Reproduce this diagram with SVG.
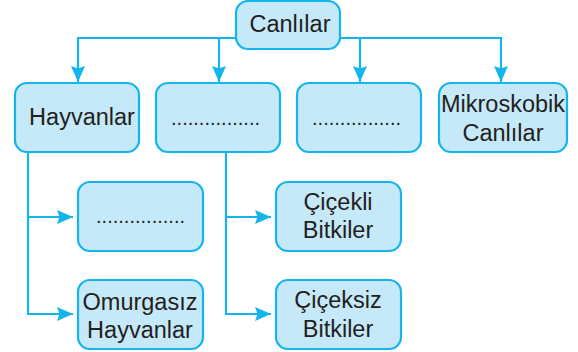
<svg xmlns="http://www.w3.org/2000/svg" width="578" height="352" viewBox="0 0 578 352">
<style>
.box{fill:#c6e9f9;stroke:#14b4ec;stroke-width:2.2}
.t{font-family:"Liberation Sans",Arial,Helvetica,sans-serif;font-size:23.5px;fill:#231f20;text-anchor:middle}
.d{font-family:"Liberation Sans",Arial,sans-serif;font-size:20px;fill:#231f20}
.c{fill:none;stroke:#14b4ec;stroke-width:2.2}
</style>
<defs>
<marker id="ah" markerUnits="userSpaceOnUse" markerWidth="18" markerHeight="16" refX="16" refY="7" orient="auto">
<path d="M0,0 L16,7 L0,14 L2.5,7 z" fill="#14b4ec"/>
</marker>
</defs>
<rect width="578" height="352" fill="#ffffff"/>
<g id="connectors">
<path class="c" d="M237,38 H78 V82" marker-end="url(#ah)"/>
<path class="c" d="M219,38 V82" marker-end="url(#ah)"/>
<path class="c" d="M339,38 H501 V82" marker-end="url(#ah)"/>
<path class="c" d="M360,38 V82" marker-end="url(#ah)"/>
<path class="c" d="M28,152 V314 H73" marker-end="url(#ah)"/>
<path class="c" d="M28,217 H73" marker-end="url(#ah)"/>
<path class="c" d="M226,152 V314 H271" marker-end="url(#ah)"/>
<path class="c" d="M226,217 H271" marker-end="url(#ah)"/>
</g>
<g id="canlilar">
<rect class="box" x="236" y="1" width="104" height="48" rx="12"/>
<text class="t" x="290" y="32">Canlılar</text>
</g>
<g id="hayvanlar">
<rect class="box" x="15" y="83" width="124" height="69" rx="12"/>
<text class="t" x="82" y="125">Hayvanlar</text>
</g>
<g id="blank1">
<rect class="box" x="156" y="83" width="124" height="69" rx="12"/>
<text class="d" x="171" y="125" textLength="89" lengthAdjust="spacing">................</text>
</g>
<g id="blank2">
<rect class="box" x="297" y="83" width="124" height="69" rx="12"/>
<text class="d" x="312" y="125" textLength="89" lengthAdjust="spacing">................</text>
</g>
<g id="mikroskobik">
<rect class="box" x="439" y="83" width="128" height="69" rx="12"/>
<text class="t" x="503" y="112">Mikroskobik</text>
<text class="t" x="503" y="141">Canlılar</text>
</g>
<g id="blank3">
<rect class="box" x="78" y="182" width="125" height="69" rx="12"/>
<text class="d" x="96" y="223" textLength="89" lengthAdjust="spacing">................</text>
</g>
<g id="omurgasiz">
<rect class="box" x="78" y="280" width="125" height="69" rx="12"/>
<text class="t" x="140" y="310">Omurgasız</text>
<text class="t" x="140" y="338">Hayvanlar</text>
</g>
<g id="cicekli">
<rect class="box" x="276" y="182" width="125" height="69" rx="12"/>
<text class="t" x="338" y="210">Çiçekli</text>
<text class="t" x="338" y="238">Bitkiler</text>
</g>
<g id="ciceksiz">
<rect class="box" x="276" y="280" width="125" height="69" rx="12"/>
<text class="t" x="338" y="308">Çiçeksiz</text>
<text class="t" x="338" y="337">Bitkiler</text>
</g>
</svg>
